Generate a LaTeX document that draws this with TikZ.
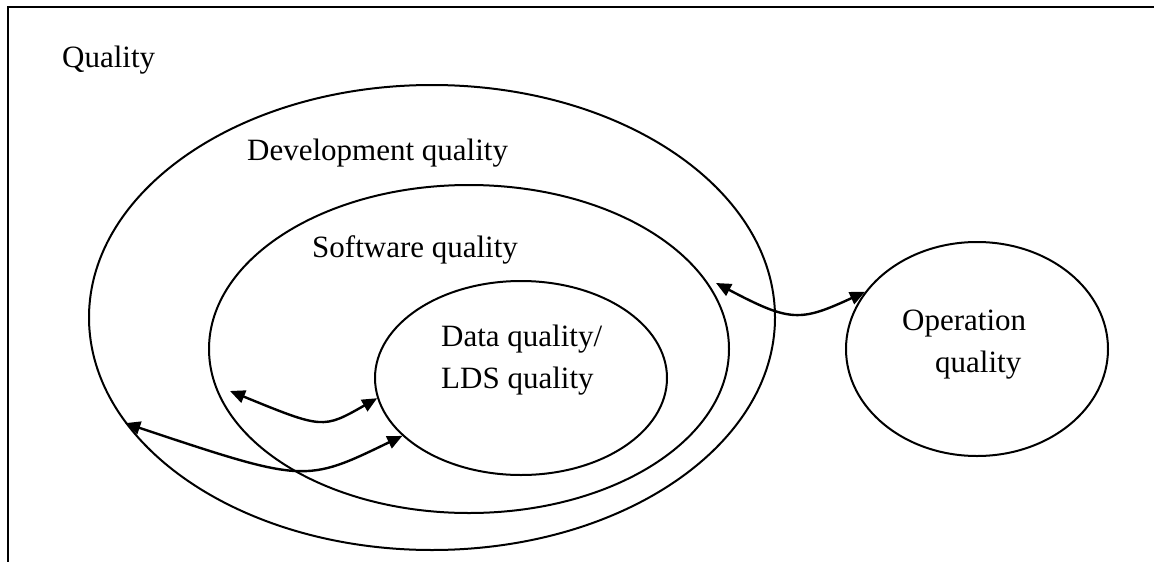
\documentclass[tikz,border=0pt]{standalone}
\usepackage{fontspec}
\setmainfont{Liberation Serif}
\usetikzlibrary{shapes.geometric,arrows.meta}
\begin{document}
\begin{tikzpicture}[x=1pt,y=-1pt,
  oval/.style={ellipse,draw,line width=2,inner sep=0pt},
  lbl/.style={anchor=base west,inner sep=0pt,font=\fontsize{31}{42}\selectfont},
  arr/.style={line width=2.4,{Triangle[length=15,width=13]}-{Triangle[length=15,width=13]}}]
\useasboundingbox (0,0) rectangle (1154,562);
% frame
\draw[line width=2.3] (1154,7) -- (8,7) -- (8,562);
% ellipses
\node[oval,minimum width=686,minimum height=465] (dev) at (432,317.5) {};
\node[oval,minimum width=520,minimum height=328] (sw) at (469,349) {};
\node[oval,minimum width=292,minimum height=194] (data) at (521,378) {};
\node[oval,minimum width=262,minimum height=214] (op) at (977,349) {};
% labels
\node[lbl] (tq) at (62,67) {Quality};
\node[lbl] (tdev) at (247,160) {Development quality};
\node[lbl] (tsw) at (312,257) {Software quality};
\node[lbl] (td1) at (441,346) {Data quality/};
\node[lbl] (td2) at (441,388) {LDS quality};
\node[lbl] (to1) at (902,330) {Operation};
\node[lbl] (to2) at (935,372) {quality};
% arrow ends
\coordinate (swtip) at (230,391);
\coordinate (devtip) at (716,283);
% connectors
\draw[arr] (devtip) .. controls (790,322) and (800,322) .. (op.153);
\draw[arr] (dev.199) .. controls (305,483) and (305,483) .. (data.206);
\draw[arr] (swtip) .. controls (323,429) and (323,429) .. (data.188);
\end{tikzpicture}
\end{document}
